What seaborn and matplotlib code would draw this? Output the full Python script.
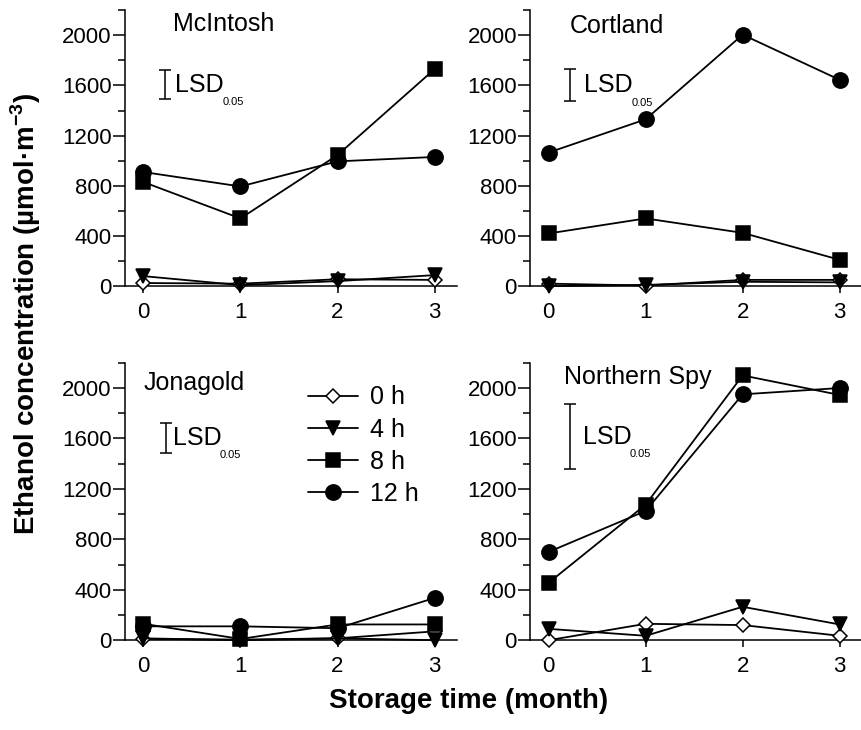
import matplotlib
matplotlib.use("Agg")
import matplotlib.pyplot as plt
from matplotlib.ticker import MultipleLocator
import seaborn as sns

# storage time (month)
months = [0, 1, 2, 3]
hours = ["0 h", "4 h", "8 h", "12 h"]

# ethanol concentration (umol m-3)
mcintosh_0h = [25, 20, 55, 50]
mcintosh_4h = [80, 8, 40, 88]
mcintosh_8h = [830, 540, 1045, 1730]
mcintosh_12h = [910, 795, 995, 1030]

cortland_0h = [20, 5, 50, 50]
cortland_4h = [0, 10, 35, 30]
cortland_8h = [420, 540, 425, 210]
cortland_12h = [1065, 1330, 2005, 1645]

jonagold_0h = [10, 5, 15, 70]
jonagold_4h = [15, 0, 15, 0]
jonagold_8h = [130, 10, 125, 125]
jonagold_12h = [110, 110, 95, 335]

spy_0h = [0, 130, 120, 35]
spy_4h = [90, 35, 265, 125]
spy_8h = [455, 1075, 2100, 1945]
spy_12h = [700, 1025, 1950, 2000]

cultivars = ["McIntosh", "Cortland", "Jonagold", "Northern Spy"]
series = {
    "McIntosh": [mcintosh_0h, mcintosh_4h, mcintosh_8h, mcintosh_12h],
    "Cortland": [cortland_0h, cortland_4h, cortland_8h, cortland_12h],
    "Jonagold": [jonagold_0h, jonagold_4h, jonagold_8h, jonagold_12h],
    "Northern Spy": [spy_0h, spy_4h, spy_8h, spy_12h],
}
# LSD 0.05 bars (low, high)
lsd_low = [1495, 1475, 1485, 1355]
lsd_high = [1720, 1728, 1725, 1872]

sns.set_theme(style="ticks")
plt.rcParams["font.family"] = ["Liberation Sans", "DejaVu Sans"]
plt.rcParams["mathtext.fontset"] = "custom"
plt.rcParams["mathtext.rm"] = "Liberation Sans"
for key in ["text.color", "axes.labelcolor", "xtick.color", "ytick.color", "axes.edgecolor"]:
    plt.rcParams[key] = "black"

marker_styles = [
    dict(marker="D", markersize=7.5, markerfacecolor="white"),
    dict(marker="v", markersize=9.5, markerfacecolor="black"),
    dict(marker="s", markersize=9.5, markerfacecolor="black"),
    dict(marker="o", markersize=11, markerfacecolor="black"),
]

fig = plt.figure(figsize=(8.62, 7.3), dpi=100)
positions = [
    [0.145, 0.608, 0.385, 0.378],
    [0.615, 0.608, 0.385, 0.378],
    [0.145, 0.123, 0.385, 0.380],
    [0.615, 0.123, 0.385, 0.380],
]
# label placement per panel: title (x, y), LSD bar x, LSD text x
title_pos = [(0.30, 2088), (0.22, 2072), (0.0, 2040), (0.155, 2088)]
lsd_x = [0.22, 0.22, 0.23, 0.22]
lsd_text_x = [0.33, 0.37, 0.30, 0.35]

for i, name in enumerate(cultivars):
    ax = fig.add_axes(positions[i])
    for j, vals in enumerate(series[name]):
        sns.lineplot(x=months, y=vals, ax=ax, color="black", linewidth=1.3,
                     markeredgecolor="black", markeredgewidth=1.1,
                     clip_on=False, zorder=3 + j,
                     label=hours[j] if name == "Jonagold" else None,
                     **marker_styles[j])

    ax.set_xlim(-0.19, 3.23)
    ax.set_ylim(0, 2200)
    ax.set_xticks(months)
    ax.yaxis.set_major_locator(MultipleLocator(400))
    ax.yaxis.set_minor_locator(MultipleLocator(200))
    ax.tick_params(axis="y", which="major", length=9, width=1.1, pad=0.5, labelsize=16)
    ax.tick_params(axis="y", which="minor", length=5, width=1.1)
    ax.tick_params(axis="x", which="major", length=5, width=1.1, pad=6.5, labelsize=16)
    for side in ["top", "right"]:
        ax.spines[side].set_visible(False)
    for side in ["left", "bottom"]:
        ax.spines[side].set_linewidth(1.1)
    ax.set_xlabel("")
    ax.set_ylabel("")

    ax.text(title_pos[i][0], title_pos[i][1], name, fontsize=18, va="center", ha="left")

    # LSD bar
    mid = (lsd_low[i] + lsd_high[i]) / 2
    half = (lsd_high[i] - lsd_low[i]) / 2
    ax.errorbar([lsd_x[i]], [mid], yerr=[half], color="black", capsize=4,
                elinewidth=1.1, capthick=1.1, fmt="none")
    ax.text(lsd_text_x[i], mid, "LSD", fontsize=18, va="center", ha="left")
    ax.text(lsd_text_x[i] + 0.49, mid - 140, "0.05", fontsize=8, va="center", ha="left")

    if name == "Jonagold":
        ax.legend(loc="upper left", bbox_to_anchor=(0.52, 0.955), frameon=False,
                  fontsize=18, handlelength=2.0, labelspacing=0.33,
                  handletextpad=0.5, borderaxespad=0)
    else:
        leg = ax.get_legend()
        if leg is not None:
            leg.remove()

fig.text(0.03, 0.57, r"Ethanol concentration (µmol·m$^{\mathregular{-3}}$)",
         rotation=90, fontsize=20, fontweight="bold", ha="center", va="center")
fig.text(0.543, 0.04, "Storage time (month)", fontsize=20, fontweight="bold",
         ha="center", va="center")

fig.savefig("out.png", dpi=100)
